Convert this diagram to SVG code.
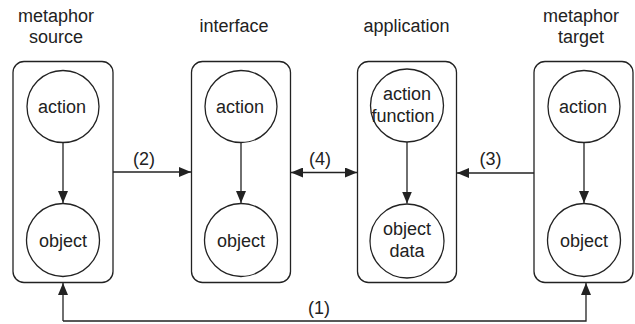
<svg xmlns="http://www.w3.org/2000/svg" width="635" height="324" viewBox="0 0 635 324">
<style>
  .box { fill: #ffffff; stroke: #222222; stroke-width: 1.3; }
  .node { fill: #ffffff; stroke: #222222; stroke-width: 1.3; }
  .edge { fill: none; stroke: #222222; stroke-width: 1.3; }
  text { font-family: "Liberation Sans", Arial, sans-serif; font-size: 18px; fill: #222222; text-anchor: middle; }
</style>
<defs>
  <marker id="ah" viewBox="0 0 12 10" refX="12" refY="5" markerWidth="12" markerHeight="10" markerUnits="userSpaceOnUse" orient="auto-start-reverse">
    <path d="M0,0 L12,5 L0,10 z" fill="#222222"/>
  </marker>
</defs>
<rect width="635" height="324" fill="#ffffff"/>

<g id="metaphor-source">
  <text x="56" y="22">metaphor</text>
  <text x="56" y="43">source</text>
  <rect class="box" x="13" y="61.5" width="100" height="221" rx="11"/>
</g>
<g id="interface">
  <text x="234" y="32">interface</text>
  <rect class="box" x="191.5" y="61.5" width="99" height="221" rx="11"/>
</g>
<g id="application">
  <text x="406.5" y="32">application</text>
  <rect class="box" x="357.5" y="61.5" width="99" height="221" rx="11"/>
</g>
<g id="metaphor-target">
  <text x="581" y="22">metaphor</text>
  <text x="581" y="43">target</text>
  <rect class="box" x="534" y="61.5" width="99" height="221" rx="11"/>
</g>

<g id="source-action">
  <circle class="node" cx="63" cy="106.5" r="36"/>
  <text x="62" y="113">action</text>
</g>
<g id="source-object">
  <circle class="node" cx="63" cy="240" r="36.5"/>
  <text x="63" y="246.5">object</text>
</g>
<g id="interface-action">
  <circle class="node" cx="241" cy="106.5" r="36"/>
  <text x="240" y="113">action</text>
</g>
<g id="interface-object">
  <circle class="node" cx="241" cy="240" r="36.5"/>
  <text x="241" y="246.5">object</text>
</g>
<g id="application-action">
  <circle class="node" cx="407" cy="105.5" r="36.5"/>
  <text x="407" y="100">action</text>
  <text x="403" y="122">function</text>
</g>
<g id="application-object">
  <circle class="node" cx="407" cy="241" r="37"/>
  <text x="407" y="235">object</text>
  <text x="407" y="257">data</text>
</g>
<g id="target-action">
  <circle class="node" cx="584" cy="106.5" r="36"/>
  <text x="583" y="113">action</text>
</g>
<g id="target-object">
  <circle class="node" cx="584" cy="240" r="36.5"/>
  <text x="584" y="246.5">object</text>
</g>

<g id="connectors">
  <line class="edge" x1="63" y1="142.5" x2="63" y2="203" marker-end="url(#ah)"/>
  <line class="edge" x1="241" y1="142.5" x2="241" y2="203" marker-end="url(#ah)"/>
  <line class="edge" x1="407" y1="142" x2="407" y2="203.5" marker-end="url(#ah)"/>
  <line class="edge" x1="584" y1="142.5" x2="584" y2="203" marker-end="url(#ah)"/>

  <line class="edge" x1="113" y1="172" x2="191" y2="172" marker-end="url(#ah)"/>
  <text x="144" y="165">(2)</text>

  <line class="edge" x1="291" y1="172.5" x2="357" y2="172.5" marker-start="url(#ah)" marker-end="url(#ah)"/>
  <text x="320" y="165">(4)</text>

  <line class="edge" x1="534" y1="173" x2="457" y2="173" marker-end="url(#ah)"/>
  <text x="490.5" y="165">(3)</text>

  <polyline class="edge" points="63,321 586,321 586,283" marker-end="url(#ah)"/>
  <line class="edge" x1="63" y1="321" x2="63" y2="283" marker-end="url(#ah)"/>
  <text x="319" y="314">(1)</text>
</g>
</svg>
